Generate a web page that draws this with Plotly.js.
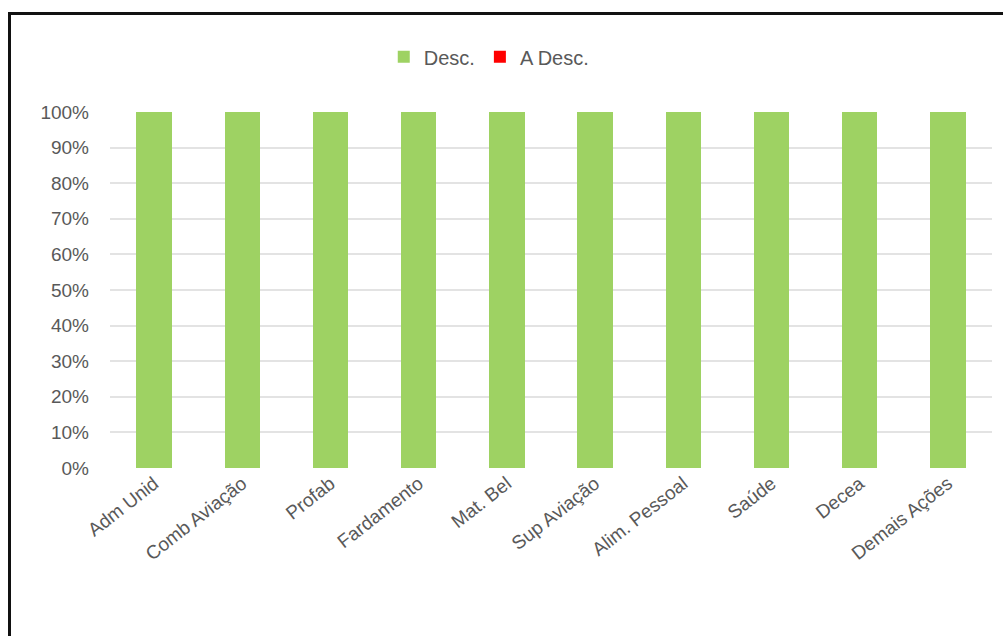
<!DOCTYPE html>
<html>
<head>
<meta charset="utf-8">
<script src="https://cdn.plot.ly/plotly-3.0.1.min.js"></script>
<style>
  html, body { margin: 0; padding: 0; background: #fff; }
  #wrap { position: relative; width: 1003px; height: 636px; overflow: hidden; }
  #frame { position: absolute; left: 8px; top: 12px; width: 1100px; height: 700px;
           border-left: 3px solid #111; border-top: 3px solid #111; box-sizing: border-box; pointer-events: none; }
  #chart { position: absolute; left: 0; top: 0; width: 1003px; height: 636px; }
</style>
</head>
<body>
<div id="wrap">
  <div id="chart"></div>
  <div id="frame"></div>
</div>
<script>
const categories = ["Adm Unid", "Comb Aviação", "Profab", "Fardamento", "Mat. Bel",
                    "Sup Aviação", "Alim. Pessoal", "Saúde", "Decea", "Demais Ações"];
const descValues = [1, 1, 1, 1, 1, 1, 1, 1, 1, 1];
const aDescValues = [0, 0, 0, 0, 0, 0, 0, 0, 0, 0];
const yTickVals = [0, 0.1, 0.2, 0.3, 0.4, 0.5, 0.6, 0.7, 0.8, 0.9, 1];
const yTickText = ["0%", "10%", "20%", "30%", "40%", "50%", "60%", "70%", "80%", "90%", "100%"];

const gray = "#595959";
const traces = [
  { type: "bar", name: "Desc.", x: categories, y: descValues,
    marker: { color: "#9ED263" }, hoverinfo: "x+y" },
  { type: "bar", name: "A Desc.", x: categories, y: aDescValues,
    marker: { color: "#FF0000" }, hoverinfo: "x+y" }
];

const layout = {
  width: 1003, height: 636,
  margin: { l: 110, r: 11, t: 112, b: 168, pad: 0 },
  paper_bgcolor: "rgba(0,0,0,0)", plot_bgcolor: "rgba(0,0,0,0)",
  barmode: "stack",
  bargap: 0.6,
  font: { family: "Liberation Sans, Arial, sans-serif", color: gray, size: 19 },
  showlegend: true,
  legend: { orientation: "h", x: 0.43, xanchor: "center", y: 1.155, yanchor: "middle",
            yref: "paper", font: { size: 20, color: gray }, traceorder: "normal",
            itemwidth: 30, itemsizing: "constant" },
  xaxis: { type: "category", tickangle: -38, showgrid: false, showline: false,
           zeroline: false, ticks: "", tickfont: { size: 19, color: gray } },
  yaxis: { range: [0, 1], tickvals: yTickVals, ticktext: yTickText,
           showgrid: true, gridcolor: "#E3E3E3", gridwidth: 2, zeroline: false,
           showline: false, ticks: "", ticklabelstandoff: 20,
           tickfont: { size: 19, color: gray } }
};

Plotly.newPlot("chart", traces, layout, { displayModeBar: false, staticPlot: true });
</script>
</body>
</html>
